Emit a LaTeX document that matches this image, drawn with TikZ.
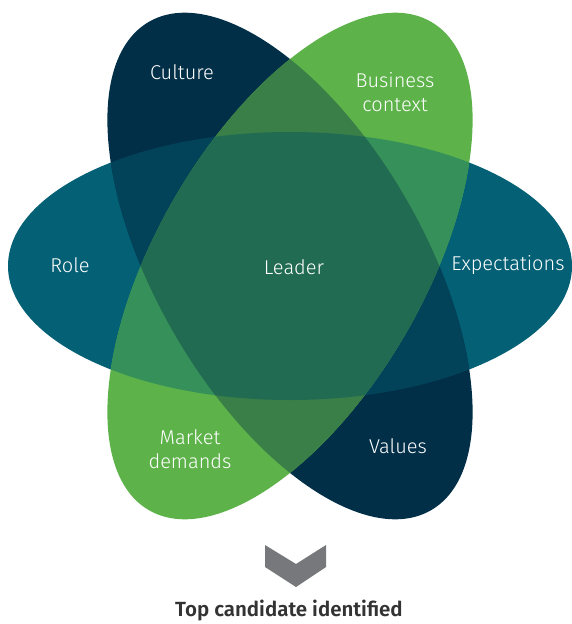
\documentclass[tikz,border=0pt]{standalone}
\usepackage{fontspec}
\setmainfont{Fira Sans Light}[BoldFont={Fira Sans SemiBold}]

\definecolor{roleteal}{HTML}{046075}
\definecolor{culturenavy}{HTML}{022F48}
\definecolor{contextgreen}{HTML}{5DB24A}
\definecolor{tealnavy}{HTML}{03435A}
\definecolor{tealgreen}{HTML}{35905A}
\definecolor{navygreen}{HTML}{3A7F48}
\definecolor{leadercore}{HTML}{216B53}
\definecolor{chevrongray}{HTML}{76787B}
\definecolor{captiongray}{HTML}{333333}

% one petal of the flower, turned by #1 degrees about the centre
\newcommand{\petal}[1]{(c) ellipse [x radius=282, y radius=134, rotate=#1]}

\begin{document}
\begin{tikzpicture}[x=1pt, y=-1pt,
    petallabel/.style={text=white, font=\fontsize{20}{24}\selectfont, align=center}]
    \useasboundingbox (0,0) rectangle (571,624);
    \coordinate (c) at (290,266);

    % the three petals
    \fill[roleteal] \petal{0};
    \fill[culturenavy] \petal{-60};
    \fill[contextgreen] \petal{60};

    % overlaps of two petals
    \begin{scope}
        \clip \petal{0};
        \fill[tealnavy] \petal{-60};
    \end{scope}
    \begin{scope}
        \clip \petal{0};
        \fill[tealgreen] \petal{60};
    \end{scope}
    \begin{scope}
        \clip \petal{-60};
        \fill[navygreen] \petal{60};
    \end{scope}

    % centre where all three meet
    \begin{scope}
        \clip \petal{0};
        \clip \petal{-60};
        \fill[leadercore] \petal{60};
    \end{scope}

    % labels
    \node[petallabel] (culture) at (182,72) {Culture};
    \node[petallabel] (context) at (395,92) {Business\\context};
    \node[petallabel] (role) at (70,265) {Role};
    \node[petallabel] (leader) at (294,267) {Leader};
    \node[petallabel] (expect) at (508,265) {Expectations};
    \node[petallabel] (market) at (190,449) {Market\\demands};
    \node[petallabel] (values) at (398,446) {Values};

    % chevron and result
    \fill[chevrongray] (265,545) -- (296,564) -- (326,545) -- (326,567)
        -- (296,587) -- (265,567) -- cycle;
    \node[text=captiongray, font=\fontsize{20.5}{24}\bfseries] (result) at (289,611)
        {Top candidate identified};
\end{tikzpicture}
\end{document}
